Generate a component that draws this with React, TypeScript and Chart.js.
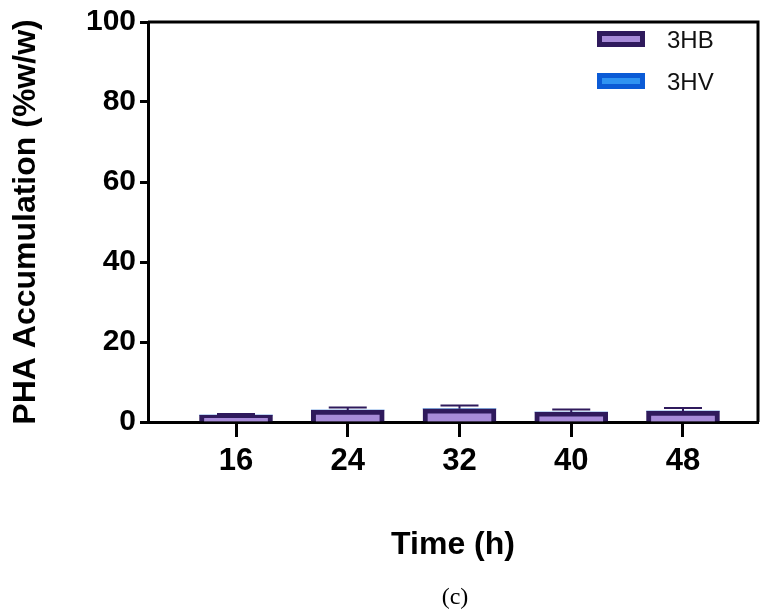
import React, { useEffect, useRef } from "react";
import { Chart, registerables } from "chart.js";

Chart.register(...registerables);

const timeLabels = [16, 24, 32, 40, 48];
const hbValues = [1.7, 3.0, 3.3, 2.5, 2.7];
const hbErrors = [0.3, 0.6, 0.8, 0.6, 0.8];
const hvValues = [0, 0, 0, 0, 0];
const yTicks = [0, 20, 40, 60, 80, 100];

const FONT = '"Liberation Sans", Arial, Helvetica, sans-serif';
const HB_BORDER = "#2f1a5c";
const HB_FILL = "#a78bd8";
const HV_BORDER = "#0b5bd6";
const HV_FILL = "#2f93f2";

const frameAndExtras = {
  id: "frameAndExtras",
  afterDatasetsDraw(chart: any) {
    const { ctx, chartArea } = chart;
    const xs = chart.scales.x;
    const ys = chart.scales.y;
    ctx.save();
    ctx.strokeStyle = HB_BORDER;
    ctx.lineWidth = 2;
    timeLabels.forEach((t, i) => {
      const cx = xs.getPixelForValue(t);
      const yTop = ys.getPixelForValue(hbValues[i] + hbErrors[i]);
      const yVal = ys.getPixelForValue(hbValues[i]);
      ctx.beginPath();
      ctx.moveTo(cx, yVal);
      ctx.lineTo(cx, yTop);
      ctx.moveTo(cx - 19, yTop);
      ctx.lineTo(cx + 19, yTop);
      ctx.stroke();
    });
    ctx.strokeStyle = "#000";
    ctx.lineWidth = 3;
    ctx.beginPath();
    ctx.moveTo(chartArea.left, chartArea.top);
    ctx.lineTo(chartArea.right, chartArea.top);
    ctx.lineTo(chartArea.right, chartArea.bottom);
    ctx.stroke();
    const ds = chart.data.datasets;
    ds.forEach((d: any, i: number) => {
      const sx = chartArea.right - 161;
      const sy = chartArea.top + 9 + i * 42;
      ctx.fillStyle = d.borderColor;
      ctx.fillRect(sx, sy, 48, 16);
      ctx.fillStyle = d.backgroundColor;
      ctx.fillRect(sx + 5, sy + 5, 38, 6);
      ctx.fillStyle = "#111";
      ctx.font = `24px ${FONT}`;
      ctx.textBaseline = "middle";
      ctx.textAlign = "left";
      ctx.fillText(d.label, sx + 70, sy + 10);
    });
    ctx.restore();
  },
};

export default function App() {
  const ref = useRef<HTMLCanvasElement | null>(null);
  useEffect(() => {
    if (!ref.current) return;
    const chart = new Chart(ref.current, {
      type: "bar",
      data: {
        datasets: [
          {
            label: "3HB",
            data: timeLabels.map((t, i) => ({ x: t, y: hbValues[i] })),
            backgroundColor: HB_FILL,
            borderColor: HB_BORDER,
            borderWidth: 5,
            barThickness: 73,
          },
          {
            label: "3HV",
            data: timeLabels.map((t, i) => ({ x: t, y: hvValues[i] })),
            backgroundColor: HV_FILL,
            borderColor: HV_BORDER,
            borderWidth: 0,
            barThickness: 73,
          },
        ],
      },
      options: {
        responsive: false,
        animation: false,
        layout: { padding: { top: 20, right: 9, left: 0, bottom: 0 } },
        plugins: {
          legend: { display: false },
          tooltip: { enabled: false },
          title: { display: false },
        },
        scales: {
          x: {
            type: "linear",
            stacked: true,
            offset: false,
            min: 9.7,
            max: 53.37,
            afterBuildTicks: (scale: any) => {
              scale.ticks = timeLabels.map((v) => ({ value: v }));
            },
            afterFit: (scale: any) => {
              scale.height = 191;
            },
            grid: {
              offset: false,
              drawOnChartArea: false,
              drawTicks: true,
              tickLength: 15,
              tickWidth: 3,
              tickColor: "#000",
            },
            border: { display: true, color: "#000", width: 3 },
            ticks: {
              color: "#000",
              padding: 6,
              font: { family: FONT, size: 31, weight: "bold" },
              callback: (v: any) => String(v),
            },
            title: {
              display: true,
              text: "Time (h)",
              color: "#000",
              font: { family: FONT, size: 32, weight: "bold" },
              padding: { top: 0, bottom: 49 },
            },
          },
          y: {
            stacked: true,
            min: 0,
            max: 100,
            afterBuildTicks: (scale: any) => {
              scale.ticks = yTicks.map((v) => ({ value: v }));
            },
            afterFit: (scale: any) => {
              scale.width = 148;
            },
            grid: {
              drawOnChartArea: false,
              drawTicks: true,
              tickLength: 8,
              tickWidth: 3,
              tickColor: "#000",
            },
            border: { display: true, color: "#000", width: 3 },
            ticks: {
              color: "#000",
              padding: 4,
              font: { family: FONT, size: 30, weight: "bold" },
            },
            title: {
              display: true,
              text: "PHA Accumulation (%w/w)",
              color: "#000",
              font: { family: FONT, size: 32, weight: "bold" },
              padding: { top: 7, bottom: 0 },
            },
          },
        },
      } as any,
      plugins: [frameAndExtras],
    });
    return () => chart.destroy();
  }, []);

  return (
    <div style={{ position: "fixed", left: 0, top: 0, width: 767, height: 613, background: "#fff" }}>
      <canvas ref={ref} width={767} height={613} style={{ display: "block" }} />
      <div
        style={{
          position: "absolute",
          left: 405,
          width: 100,
          top: 581,
          textAlign: "center",
          fontFamily: '"Liberation Serif", "Times New Roman", serif',
          fontSize: 24,
          color: "#000",
          lineHeight: "30px",
        }}
      >
        (c)
      </div>
    </div>
  );
}
